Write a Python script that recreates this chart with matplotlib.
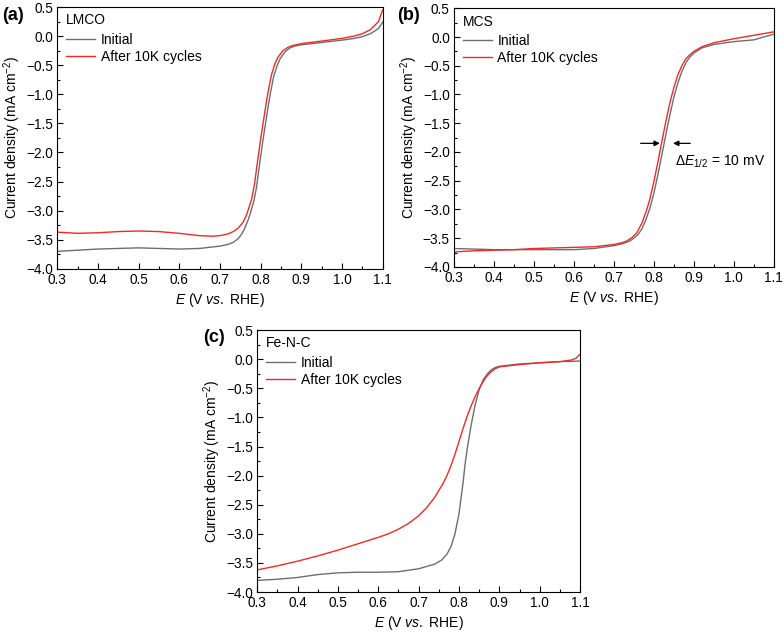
import matplotlib.pyplot as plt
from matplotlib.ticker import MultipleLocator

plt.rcParams['font.family'] = ['Liberation Sans', 'DejaVu Sans']
plt.rcParams['mathtext.fontset'] = 'custom'
plt.rcParams['mathtext.rm'] = 'Liberation Sans'
plt.rcParams['mathtext.it'] = 'Liberation Sans:italic'
plt.rcParams['font.size'] = 10

# ---- panel (a) LMCO ----
a_init_x = [0.30, 0.35, 0.40, 0.45, 0.50, 0.55, 0.60, 0.65, 0.70, 0.72, 0.733, 0.745, 0.753, 0.76, 0.77,
            0.775, 0.783, 0.79, 0.795, 0.805, 0.815, 0.82, 0.825, 0.832, 0.84, 0.848, 0.86, 0.873,
            0.885, 0.90, 0.95, 1.00, 1.03, 1.05, 1.07, 1.09, 1.10]
a_init_y = [-3.70, -3.68, -3.66, -3.65, -3.64, -3.65, -3.66, -3.65, -3.61, -3.58, -3.545, -3.48, -3.41,
            -3.32, -3.15, -3.04, -2.85, -2.60, -2.33, -1.83, -1.37, -1.15, -0.95, -0.70, -0.52, -0.39,
            -0.27, -0.20, -0.17, -0.15, -0.11, -0.07, -0.04, -0.01, 0.04, 0.13, 0.24]
a_after_x = [0.30, 0.35, 0.40, 0.45, 0.50, 0.55, 0.60, 0.65, 0.68, 0.70, 0.72, 0.733, 0.745, 0.757,
             0.765, 0.77, 0.778, 0.785, 0.79, 0.80, 0.81, 0.815, 0.82, 0.827, 0.835, 0.843, 0.855,
             0.868, 0.88, 0.90, 0.945, 1.00, 1.03, 1.05, 1.07, 1.09, 1.10]
a_after_y = [-3.37, -3.39, -3.38, -3.36, -3.35, -3.36, -3.39, -3.43, -3.44, -3.43, -3.40, -3.36, -3.30,
             -3.20, -3.08, -2.98, -2.80, -2.55, -2.28, -1.78, -1.32, -1.10, -0.90, -0.66, -0.48, -0.36,
             -0.25, -0.19, -0.16, -0.13, -0.09, -0.04, 0.00, 0.04, 0.11, 0.25, 0.45]

# ---- panel (b) MCS ----
b_init_x = [0.30, 0.35, 0.40, 0.45, 0.50, 0.55, 0.60, 0.65, 0.70, 0.72, 0.74, 0.75, 0.76, 0.77, 0.78,
            0.79, 0.80, 0.81, 0.82, 0.83, 0.84, 0.85, 0.86, 0.87, 0.88, 0.89, 0.90, 0.92, 0.95, 1.00,
            1.05, 1.10]
b_init_y = [-3.68, -3.69, -3.70, -3.70, -3.70, -3.70, -3.70, -3.68, -3.63, -3.60, -3.55, -3.50, -3.44,
            -3.34, -3.18, -2.98, -2.72, -2.40, -2.05, -1.70, -1.36, -1.05, -0.80, -0.60, -0.45, -0.35,
            -0.28, -0.19, -0.13, -0.08, -0.05, 0.05]
b_after_x = [0.30, 0.35, 0.40, 0.45, 0.50, 0.55, 0.60, 0.65, 0.70, 0.72, 0.732, 0.745, 0.757, 0.77,
             0.782, 0.79, 0.80, 0.81, 0.82, 0.83, 0.84, 0.85, 0.86, 0.87, 0.88, 0.89, 0.90, 0.92, 0.95,
             1.00, 1.05, 1.10]
b_after_y = [-3.74, -3.72, -3.71, -3.70, -3.68, -3.67, -3.66, -3.65, -3.61, -3.58, -3.55, -3.49, -3.41,
             -3.24, -3.01, -2.82, -2.52, -2.18, -1.82, -1.47, -1.15, -0.88, -0.66, -0.50, -0.38, -0.31,
             -0.25, -0.17, -0.10, -0.03, 0.03, 0.09]

# ---- panel (c) Fe-N-C ----
c_init_x = [0.30, 0.35, 0.40, 0.45, 0.50, 0.55, 0.60, 0.65, 0.70, 0.72, 0.74, 0.757, 0.77, 0.78, 0.79,
            0.80, 0.81, 0.815, 0.82, 0.83, 0.84, 0.85, 0.86, 0.87, 0.88, 0.89, 0.90, 0.95, 1.00, 1.05,
            1.10]
c_init_y = [-3.80, -3.78, -3.75, -3.70, -3.67, -3.66, -3.66, -3.65, -3.60, -3.56, -3.52, -3.45, -3.35,
            -3.22, -3.00, -2.65, -2.12, -1.80, -1.55, -1.13, -0.78, -0.52, -0.35, -0.25, -0.18, -0.14,
            -0.12, -0.08, -0.06, -0.04, -0.03]
c_after_x = [0.30, 0.35, 0.40, 0.45, 0.50, 0.55, 0.60, 0.625, 0.65, 0.675, 0.70, 0.72, 0.74, 0.76, 0.77,
             0.78, 0.79, 0.80, 0.81, 0.82, 0.83, 0.84, 0.85, 0.86, 0.87, 0.88, 0.89, 0.90, 0.95, 1.00,
             1.05, 1.08, 1.09, 1.10]
c_after_y = [-3.62, -3.55, -3.47, -3.38, -3.28, -3.17, -3.06, -3.00, -2.92, -2.82, -2.69, -2.55, -2.37,
             -2.14, -2.00, -1.83, -1.63, -1.41, -1.19, -0.98, -0.80, -0.64, -0.50, -0.38, -0.28, -0.21,
             -0.16, -0.13, -0.09, -0.06, -0.04, -0.01, 0.02, 0.09]

gray = '#6e6e6e'
red = '#ee2a2a'

fig = plt.figure(figsize=(7.84, 6.37), dpi=100)


def setup(ax, name):
    ax.set_xlim(0.3, 1.1)
    ax.set_ylim(-4.0, 0.5)
    ax.xaxis.set_major_locator(MultipleLocator(0.1))
    ax.xaxis.set_minor_locator(MultipleLocator(0.05))
    ax.yaxis.set_major_locator(MultipleLocator(0.5))
    ax.yaxis.set_minor_locator(MultipleLocator(0.25))
    ax.tick_params(which='both', direction='in', top=False, right=False, labelsize=9.8, pad=3)
    ax.tick_params(which='major', length=4, width=0.8)
    ax.tick_params(which='minor', length=2.2, width=0.8)
    ax.set_xlabel('$E$ (V $vs.$ RHE)', labelpad=3)
    ax.set_ylabel('Current density (mA cm$^{-2}$)', labelpad=2)
    for s in ax.spines.values():
        s.set_linewidth(0.8)
    leg = ax.legend(loc='upper left', bbox_to_anchor=(0.008, 1.0), frameon=False, title=name,
                    alignment='left', handlelength=2.1, handletextpad=0.4, borderaxespad=0.25,
                    borderpad=0.2, labelspacing=0.22, fontsize=10, title_fontsize=10)
    leg._legend_box.sep = 4


ax1 = fig.add_axes([0.073, 0.578, 0.415, 0.411])
ax1.plot(a_init_x, a_init_y, color=gray, lw=1, label='Initial')
ax1.plot(a_after_x, a_after_y, color=red, lw=1, label='After 10K cycles')
setup(ax1, 'LMCO')

ax2 = fig.add_axes([0.579, 0.581, 0.408, 0.406])
ax2.plot(b_init_x, b_init_y, color=gray, lw=1, label='Initial')
ax2.plot(b_after_x, b_after_y, color=red, lw=1, label='After 10K cycles')
setup(ax2, 'MCS')
ax2.annotate('', xy=(0.822, -1.85), xytext=(0.76, -1.85),
             arrowprops=dict(arrowstyle='-|>', color='black', lw=0.9, mutation_scale=8))
ax2.annotate('', xy=(0.841, -1.85), xytext=(0.898, -1.85),
             arrowprops=dict(arrowstyle='-|>', color='black', lw=0.9, mutation_scale=8))
ax2.text(0.853, -2.17, r'$\Delta E_{1/2}$ = 10 mV', fontsize=10, va='center', ha='left')

ax3 = fig.add_axes([0.328, 0.0706, 0.412, 0.411])
ax3.plot(c_init_x, c_init_y, color=gray, lw=1, label='Initial')
ax3.plot(c_after_x, c_after_y, color=red, lw=1, label='After 10K cycles')
setup(ax3, 'Fe-N-C')

# panel tags
fig.text(2 / 784, 1 - 15 / 637, '(a)', fontsize=13, fontweight='bold', va='center', ha='left')
fig.text(397 / 784, 1 - 15 / 637, '(b)', fontsize=13, fontweight='bold', va='center', ha='left')
fig.text(203 / 784, 1 - 338 / 637, '(c)', fontsize=13, fontweight='bold', va='center', ha='left')

fig.savefig('out.png', dpi=100)
